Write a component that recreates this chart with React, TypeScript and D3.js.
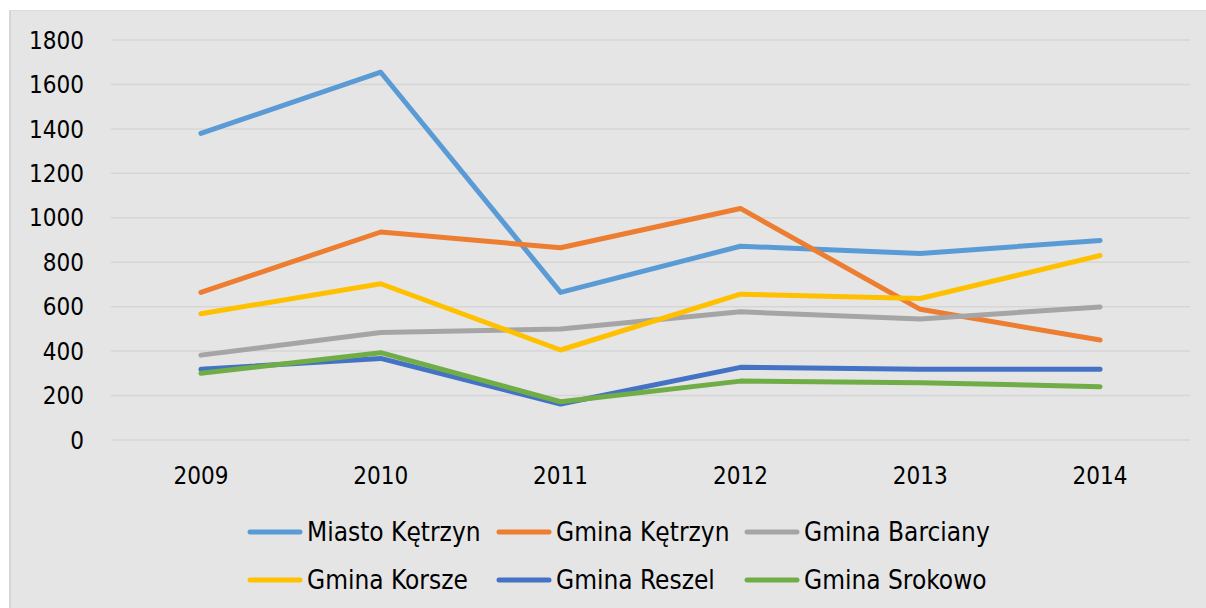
import React, { useRef, useEffect } from 'react';
import * as d3 from 'd3';

const years = ['2009', '2010', '2011', '2012', '2013', '2014'];
const miastoKetrzyn = [1380, 1655, 664, 872, 839, 898];
const gminaKetrzyn = [664, 936, 865, 1042, 588, 450];
const gminaBarciany = [382, 484, 499, 577, 544, 599];
const gminaKorsze = [568, 703, 405, 656, 637, 830];
const gminaReszel = [318, 367, 162, 327, 318, 318];
const gminaSrokowo = [300, 393, 172, 265, 258, 240];
const yTicks = [0, 200, 400, 600, 800, 1000, 1200, 1400, 1600, 1800];

const series = [
    { name: 'Miasto Kętrzyn', values: miastoKetrzyn, color: '#5B9BD5' },
    { name: 'Gmina Kętrzyn', values: gminaKetrzyn, color: '#ED7D31' },
    { name: 'Gmina Barciany', values: gminaBarciany, color: '#A5A5A5' },
    { name: 'Gmina Korsze', values: gminaKorsze, color: '#FFC000' },
    { name: 'Gmina Reszel', values: gminaReszel, color: '#4472C4' },
    { name: 'Gmina Srokowo', values: gminaSrokowo, color: '#70AD47' },
];

const FONT = '"DejaVu Sans Condensed", "DejaVu Sans", sans-serif';

const App = () => {
    const ref = useRef(null);

    useEffect(() => {
        const width = 1206;
        const height = 608;
        const svg = d3.select(ref.current);
        svg.selectAll('*').remove();
        svg.attr('width', width).attr('height', height);

        // background panel
        svg.append('rect')
            .attr('x', 9)
            .attr('y', 10)
            .attr('width', width - 9)
            .attr('height', height - 10)
            .attr('fill', '#e5e5e5');
        svg.append('line')
            .attr('x1', 10).attr('x2', 10)
            .attr('y1', 10).attr('y2', height)
            .attr('stroke', '#d6d6d6')
            .attr('stroke-width', 2);
        svg.append('line')
            .attr('x1', 9).attr('x2', width)
            .attr('y1', 10.5).attr('y2', 10.5)
            .attr('stroke', '#dadada')
            .attr('stroke-width', 1);

        const x = d3.scaleBand().domain(years).range([111, 1190]);
        const y = d3.scaleLinear().domain([0, 1800]).range([440, 40]);

        // gridlines
        svg.append('g')
            .selectAll('line')
            .data(yTicks)
            .enter()
            .append('line')
            .attr('x1', 111)
            .attr('x2', 1190)
            .attr('y1', d => y(d))
            .attr('y2', d => y(d))
            .attr('stroke', '#d6d6d6')
            .attr('stroke-width', 1.5);

        // y labels
        svg.append('g')
            .selectAll('text')
            .data(yTicks)
            .enter()
            .append('text')
            .attr('x', 84)
            .attr('y', d => y(d))
            .attr('dy', '0.36em')
            .attr('text-anchor', 'end')
            .style('font-family', FONT)
            .style('font-size', '24px')
            .attr('fill', '#000')
            .text(d => d);

        // x labels
        svg.append('g')
            .selectAll('text')
            .data(years)
            .enter()
            .append('text')
            .attr('x', d => (x(d) ?? 0) + x.bandwidth() / 2)
            .attr('y', 475)
            .attr('dy', '0.36em')
            .attr('text-anchor', 'middle')
            .style('font-family', FONT)
            .style('font-size', '24px')
            .attr('fill', '#000')
            .text(d => d);

        const line = d3.line()
            .x((d, i) => (x(years[i]) ?? 0) + x.bandwidth() / 2)
            .y(d => y(d));

        series.forEach(s => {
            svg.append('path')
                .datum(s.values)
                .attr('d', line)
                .attr('fill', 'none')
                .attr('stroke', s.color)
                .attr('stroke-width', 5)
                .attr('stroke-linecap', 'round')
                .attr('stroke-linejoin', 'round');
        });

        // Legend
        const colX = [248, 497, 745];
        const rowY = [532, 580];
        const legend = svg.append('g');
        series.forEach((s, i) => {
            const cx = colX[i % 3];
            const cy = rowY[Math.floor(i / 3)];
            legend.append('line')
                .attr('x1', cx + 2)
                .attr('x2', cx + 52)
                .attr('y1', cy)
                .attr('y2', cy)
                .attr('stroke', s.color)
                .attr('stroke-width', 5)
                .attr('stroke-linecap', 'round');
            legend.append('text')
                .attr('x', cx + 59)
                .attr('y', cy)
                .attr('dy', '0.36em')
                .style('font-family', FONT)
                .style('font-size', '26px')
                .attr('fill', '#000')
                .text(s.name);
        });
    }, []);

    return (
        <div style={{ position: 'absolute', left: 0, top: 0 }}>
            <svg ref={ref}></svg>
        </div>
    );
};

export default App;
